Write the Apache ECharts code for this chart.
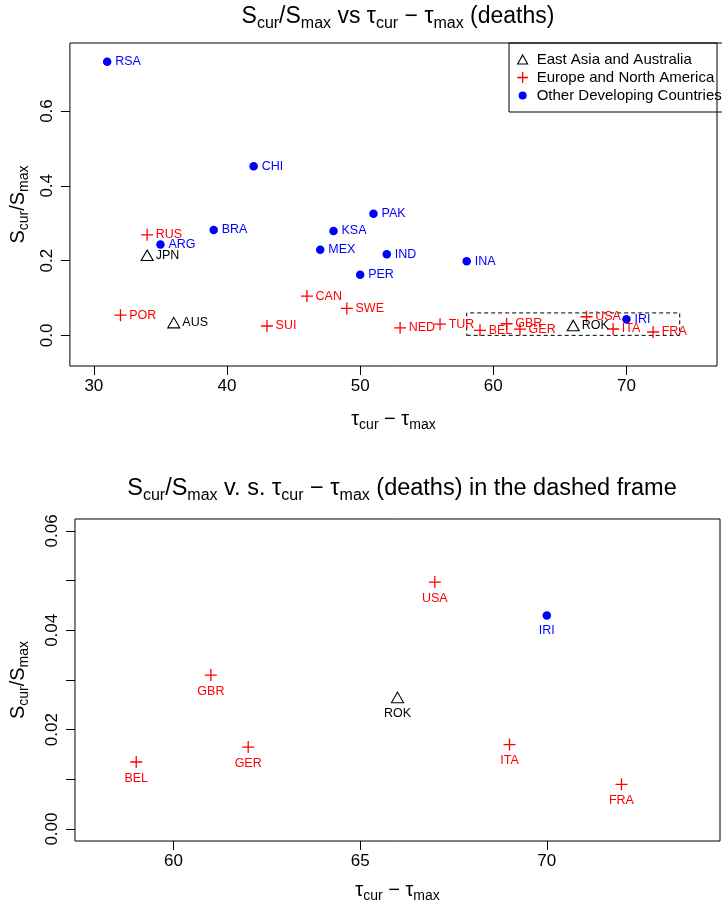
<!DOCTYPE html>
<html><head><meta charset="utf-8">
<script src="https://cdn.jsdelivr.net/npm/echarts@6/dist/echarts.min.js"></script>
<style>html,body{margin:0;padding:0;background:#fff}#c{width:722px;height:904px}</style>
</head><body><div id="c"></div>
<script>
// ---- data ----
const eaCodes = ['JPN','AUS','ROK'];
const eaX = [34,36,66];
const eaY = [0.214,0.034,0.0265];
const enCodes = ['RUS','POR','CAN','SWE','SUI','NED','TUR','BEL','GBR','GER','USA','ITA','FRA'];
const enX = [34,32,46,49,43,53,56,59,61,62,67,69,72];
const enY = [0.269,0.054,0.105,0.072,0.025,0.020,0.030,0.0135,0.031,0.0165,0.0497,0.017,0.009];
const odCodes = ['RSA','CHI','PAK','BRA','KSA','ARG','MEX','IND','INA','PER','IRI'];
const odX = [31,42,51,39,48,35,47,52,58,50,70];
const odY = [0.732,0.452,0.325,0.282,0.279,0.243,0.229,0.217,0.198,0.162,0.043];
const groupNames = ['East Asia and Australia','Europe and North America','Other Developing Countries'];
const frameX = [58,74];
const frameY = [0,0.06];
const topXTicks = [30,40,50,60,70];
const topYTicks = [0,0.2,0.4,0.6];
const botXTicks = [60,65,70];
const botYTicks = [0,0.01,0.02,0.03,0.04,0.05,0.06];
const botYLabels = [0,0.02,0.04,0.06];

const FONT = 'Liberation Sans, Arial, Helvetica, sans-serif';
function rich(size){
  return {
    n:{fontSize:size,fontFamily:FONT,color:'#000',fontWeight:'normal'},
    s:{fontSize:Math.round(size*0.7),fontFamily:FONT,color:'#000',fontWeight:'normal',padding:[Math.round(size*0.6),0,0,0]}
  };
}
function pts(codes,xs,ys){return codes.map((c,i)=>({name:c,value:[xs[i],ys[i]]}));}
function inFrame(d){return d.value[0]>=frameX[0]&&d.value[0]<=frameX[1]&&d.value[1]>=frameY[0]&&d.value[1]<=frameY[1];}

const groups = [
  {data:pts(eaCodes,eaX,eaY),color:'#000000',symbol:'triangle',size:[12,10.5],fill:'transparent',bw:1.1,
   icon:'path://M0,0M12,12M6,1.5L11,10.5L1,10.5Z'},
  {data:pts(enCodes,enX,enY),color:'#FF0000',symbol:'path://M0,6H12M6,0V12',size:[12,12],fill:'transparent',bw:1.3,
   icon:'path://M0,0M12,12M0.5,6H11.5M6,0.5V11.5'},
  {data:pts(odCodes,odX,odY),color:'#0000FF',symbol:'circle',size:8.5,fill:'#0000FF',bw:0,
   icon:'path://M0,0M12,12M10,6A4,4,0,1,1,2,6A4,4,0,1,1,10,6Z'}
];
const halfW = g => (Array.isArray(g.size)?g.size[0]:g.size)/2;
const halfH = g => (Array.isArray(g.size)?g.size[1]:g.size)/2;

const series = [];
groups.forEach((g,k)=>{
  series.push({
    type:'scatter',name:groupNames[k],xAxisIndex:0,yAxisIndex:0,
    symbol:g.symbol,symbolSize:g.size,data:g.data,
    itemStyle:{color:g.fill,borderColor:g.color,borderWidth:g.bw,opacity:1},
    label:{show:true,position:'right',distance:Math.max(0,8-halfW(g)),formatter:'{b}',
      fontSize:12.5,fontFamily:FONT,color:g.color},
    emphasis:{disabled:true}
  });
});
groups.forEach((g,k)=>{
  series.push({
    type:'scatter',name:groupNames[k],xAxisIndex:1,yAxisIndex:1,
    symbol:g.symbol,symbolSize:g.size,data:g.data.filter(inFrame),
    itemStyle:{color:g.fill,borderColor:g.color,borderWidth:g.bw,opacity:1},
    label:{show:true,position:'bottom',distance:Math.max(0,9-halfH(g)),formatter:'{b}',
      fontSize:12.5,fontFamily:FONT,color:g.color},
    emphasis:{disabled:true}
  });
});
series.push({
  type:'line',xAxisIndex:0,yAxisIndex:0,silent:true,symbol:'none',
  data:[[frameX[0],frameY[0]],[frameX[1],frameY[0]],[frameX[1],frameY[1]],[frameX[0],frameY[1]],[frameX[0],frameY[0]]],
  lineStyle:{color:'#000',width:1,type:[4,3]},z:1
});

function xAxis(idx,min,max,ticks,gap){
  return {type:'value',gridIndex:idx,min:min,max:max,
    axisLine:{show:false,onZero:false},splitLine:{show:false},
    axisTick:{show:true,length:9,inside:false,customValues:ticks,lineStyle:{color:'#000'}},
    axisLabel:{customValues:ticks,margin:12,fontSize:17,fontFamily:FONT,color:'#000'},
    name:'{n|τ}{s|cur}{n| − τ}{s|max}',nameLocation:'middle',nameGap:gap,
    nameTextStyle:{rich:rich(20)}
  };
}
function yAxis(idx,min,max,ticks,labels,dec,gap){
  return {type:'value',gridIndex:idx,min:min,max:max,
    axisLine:{show:false,onZero:false},splitLine:{show:false},
    axisTick:{show:true,length:9,inside:false,customValues:ticks,lineStyle:{color:'#000'}},
    axisLabel:{customValues:labels,rotate:90,margin:14,fontSize:17,fontFamily:FONT,color:'#000',
      formatter:v=>v.toFixed(dec)},
    name:'{n|S}{s|cur}{n|/S}{s|max}',nameLocation:'middle',nameGap:gap,nameRotate:90,
    nameTextStyle:{rich:rich(20)}
  };
}

const chart = echarts.init(document.getElementById('c'),null,{renderer:'canvas'});
chart.setOption({
  animation:false,
  backgroundColor:'#fff',
  title:[
    {text:'{n|S}{s|cur}{n|/S}{s|max}{n| vs τ}{s|cur}{n| − τ}{s|max}{n| (deaths)}',left:393,top:-3,textAlign:'center',
      textStyle:{fontWeight:'normal',rich:rich(23)}},
    {text:'{n|S}{s|cur}{n|/S}{s|max}{n| v. s. τ}{s|cur}{n| − τ}{s|max}{n| (deaths) in the dashed frame}',left:397,top:469,textAlign:'center',
      textStyle:{fontWeight:'normal',rich:rich(23.5)}}
  ],
  legend:{
    data:groupNames.map((n,k)=>({name:n,icon:groups[k].icon,itemStyle:{color:groups[k].fill,borderColor:groups[k].color,borderWidth:groups[k].bw||0}})),
    orient:'vertical',left:509,top:43,
    borderColor:'#000',borderWidth:1,borderRadius:0,padding:[9,7,9,7],
    itemGap:3,itemWidth:12,itemHeight:12,
    textStyle:{fontSize:15,fontFamily:FONT,color:'#000',padding:[0,0,0,3]},
    selectedMode:false
  },
  grid:[
    {left:67,top:43,width:650,height:323,show:true,borderColor:'#000',borderWidth:1,backgroundColor:'transparent'},
    {left:73,top:519,width:647,height:324,show:true,borderColor:'#000',borderWidth:1,backgroundColor:'transparent'}
  ],
  xAxis:[xAxis(0,28.2,76.8,topXTicks,40),xAxis(1,57.36,74.64,botXTicks,36)],
  yAxis:[yAxis(0,-0.082,0.782,topYTicks,topYTicks,1,38),yAxis(1,-0.0024,0.0624,botYTicks,botYLabels,2,44)],
  series:series
});
</script></body></html>
